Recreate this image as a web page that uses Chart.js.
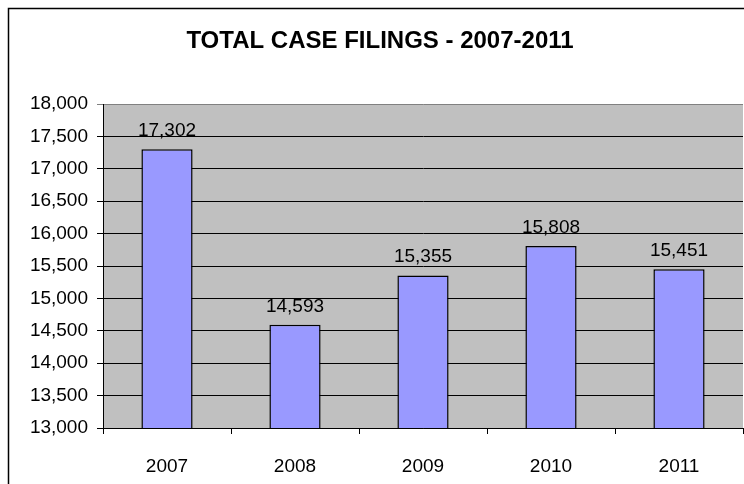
<!DOCTYPE html>
<html>
<head>
<meta charset="utf-8">
<script src="https://cdn.jsdelivr.net/npm/chart.js@4.4.1/dist/chart.umd.min.js"></script>
<style>
  html, body { margin: 0; padding: 0; background: #fff; }
  #wrap { width: 744px; height: 484px; }
</style>
</head>
<body>
<div id="wrap"><canvas id="myChart" width="744" height="484"></canvas></div>
<script>
const titulo = "TOTAL CASE FILINGS - 2007-2011";
const years = ["2007", "2008", "2009", "2010", "2011"];
const filings = [17302, 14593, 15355, 15808, 15451];
const yMin = 13000;
const yMax = 18000;
const yStep = 500;

const ctx = document.getElementById('myChart');
const fontFam = "'Liberation Sans', Arial, sans-serif";

// white page, frame, title and grey plot area
const fondo = {
  id: 'fondo',
  beforeDraw(chart) {
    const c = chart.ctx;
    c.save();
    c.fillStyle = '#ffffff';
    c.fillRect(0, 0, chart.width, chart.height);
    c.strokeStyle = '#000000';
    c.lineWidth = 1.5;
    c.strokeRect(8.5, 8.5, 900, 700);

    c.fillStyle = '#000';
    c.font = "bold 24px " + fontFam;
    c.textAlign = 'center';
    c.textBaseline = 'middle';
    c.fillText(titulo, 380, 41);

    const a = chart.chartArea;
    c.fillStyle = '#c0c0c0';
    c.fillRect(a.left, a.top, a.right - a.left, a.bottom - a.top);
    c.restore();
  }
};

// value labels above each bar
const etiquetas = {
  id: 'etiquetas',
  afterDatasetsDraw(chart) {
    const c = chart.ctx;
    const meta = chart.getDatasetMeta(0);
    c.save();
    c.font = "19px " + fontFam;
    c.fillStyle = '#000';
    c.textAlign = 'center';
    c.textBaseline = 'alphabetic';
    meta.data.forEach((bar, i) => {
      c.fillText(filings[i].toLocaleString('en-US'), bar.x, bar.y - 13);
    });
    c.restore();
  }
};

new Chart(ctx, {
  type: 'bar',
  data: {
    labels: years,
    datasets: [{
      data: filings,
      backgroundColor: '#9999ff',
      borderColor: '#000000',
      borderWidth: 1.5,
      categoryPercentage: 1,
      barPercentage: 0.4
    }]
  },
  options: {
    responsive: false,
    animation: false,
    layout: { padding: { left: 0, right: 1, top: 104, bottom: 0 } },
    plugins: {
      legend: { display: false },
      tooltip: { enabled: false },
      title: { display: false }
    },
    scales: {
      x: {
        grid: {
          offset: true,
          drawOnChartArea: false,
          drawTicks: true,
          tickLength: 6,
          color: '#000'
        },
        border: { color: '#000', width: 1 },
        ticks: {
          color: '#000',
          font: { family: fontFam, size: 19 },
          padding: 21,
          maxRotation: 0
        },
        afterFit(scale) { scale.height = 56; }
      },
      y: {
        min: yMin,
        max: yMax,
        grid: {
          color: (c) => (c.tick && c.tick.value === yMax ? '#808080' : '#000'),
          lineWidth: 1,
          tickLength: 6,
          drawTicks: true
        },
        border: { color: '#000', width: 1 },
        ticks: {
          stepSize: yStep,
          color: '#000',
          font: { family: fontFam, size: 19 },
          padding: 9,
          callback: (v) => v.toLocaleString('en-US')
        },
        afterFit(scale) { scale.width = 103; }
      }
    }
  },
  plugins: [fondo, etiquetas]
});
</script>
</body>
</html>
